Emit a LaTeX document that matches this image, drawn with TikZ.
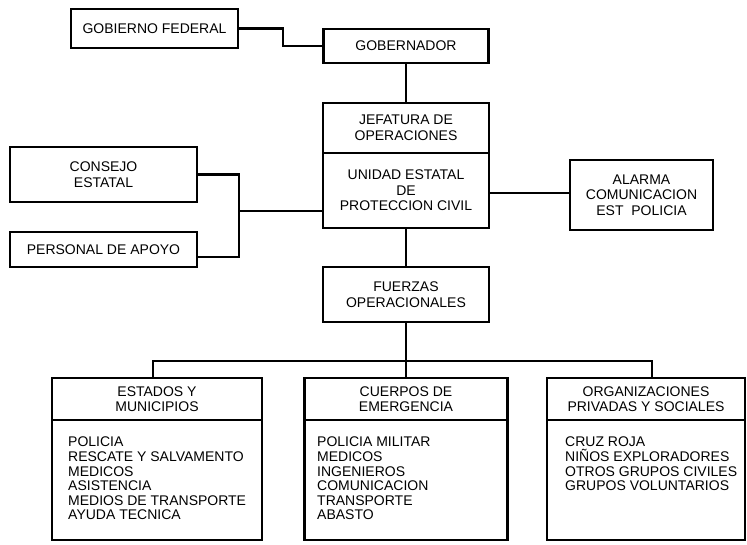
\documentclass[tikz,border=0pt]{standalone}
\usepackage{fontspec}
\setmainfont{Liberation Sans}
\begin{document}
\begin{tikzpicture}[x=1pt,y=-1pt,
  box/.style={draw, line width=2.2pt, inner sep=0pt, align=center,
    font=\fontsize{14}{15.5}\selectfont},
  wire/.style={line width=2.2pt},
  list/.style={anchor=north west, align=left, inner sep=0pt,
    font=\fontsize{14}{14.6}\selectfont}]
\useasboundingbox (0,0) rectangle (747,545);

% upper chain of command
\node[box, minimum width=167, minimum height=39] (gf)  at (154.5,28.5) {GOBIERNO FEDERAL};
\node[box, minimum width=165, minimum height=34] (gob) at (406,46) {GOBERNADOR};
\node[box, minimum width=166, minimum height=50] (jef) at (406,128) {JEFATURA DE\\OPERACIONES};
\node[box, minimum width=166, minimum height=75] (uni) at (406,190.5) {UNIDAD ESTATAL\\DE\\PROTECCION CIVIL};
\node[box, minimum width=143, minimum height=70] (ala) at (641.5,195) {ALARMA\\COMUNICACION\\EST\ \ POLICIA};
\node[box, minimum width=187, minimum height=55] (con) at (103.5,174.5) {CONSEJO\\ESTATAL};
\node[box, minimum width=187, minimum height=35] (per) at (103.5,249.5) {PERSONAL DE APOYO};
\node[box, minimum width=166, minimum height=55] (fue) at (406,294.5) {FUERZAS\\OPERACIONALES};

% operational groups: header over body
\node[box, minimum width=210, minimum height=42] (est) at (157,399) {ESTADOS Y\\MUNICIPIOS};
\node[box, minimum width=210, minimum height=120] (estb) at (157,480) {};
\node[box, minimum width=203, minimum height=42] (cue) at (406,399) {CUERPOS DE\\EMERGENCIA};
\node[box, minimum width=203, minimum height=120] (cueb) at (406,480) {};
\node[box, minimum width=198, minimum height=42] (org) at (646,399) {ORGANIZACIONES\\PRIVADAS Y SOCIALES};
\node[box, minimum width=198, minimum height=120] (orgb) at (646,480) {};

\node[list] (estl) at (68,437) {POLICIA\\RESCATE Y SALVAMENTO\\MEDICOS\\ASISTENCIA\\MEDIOS DE TRANSPORTE\\AYUDA TECNICA};
\node[list] (cuel) at (317,437) {POLICIA MILITAR\\MEDICOS\\INGENIEROS\\COMUNICACION\\TRANSPORTE\\ABASTO};
\node[list] (orgl) at (565,437) {CRUZ ROJA\\NIÑOS EXPLORADORES\\OTROS GRUPOS CIVILES\\GRUPOS VOLUNTARIOS};

% connectors
\draw[wire] (gf.east) -- ++(44,0) |- (gob.west);
\draw[wire] (gob.south) -- (jef.north);
\draw[wire] (uni.south) -- (fue.north);
\coordinate (ak) at (530,193);
\draw[wire] (ak -| uni.east) -- (ak -| ala.west);
\coordinate (pe) at ([yshift=-7.5pt]per.east);
\draw[wire] (con.east) -- ++(41,0) coordinate (j1) -- (j1 |- pe) -- (pe);
\coordinate (j2) at (238,211);
\draw[wire] (j2) -- (j2 -| uni.west);
\draw[wire] (fue.south) -- (cue.north);
\draw[wire] ([xshift=-4pt]est.north) -- ++(0,-16) -| ([xshift=6pt]org.north);
\end{tikzpicture}
\end{document}
